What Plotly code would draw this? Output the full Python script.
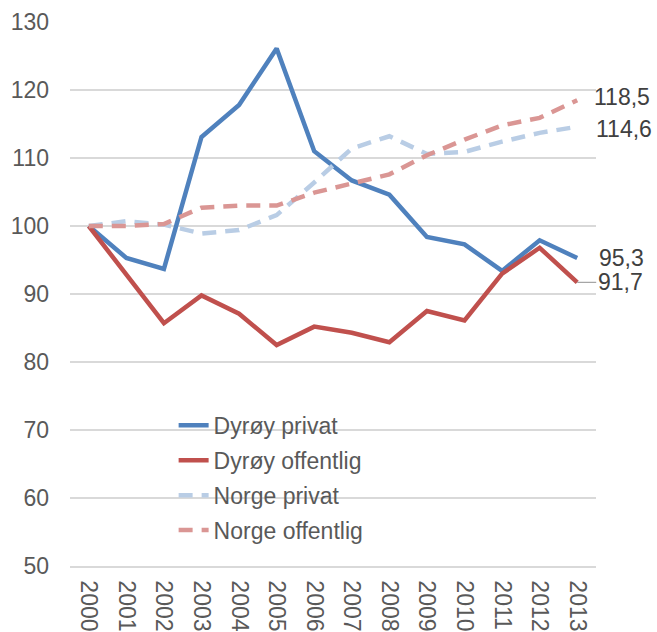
import plotly.graph_objects as go

years = [str(y) for y in range(2000, 2014)]
dyroy_privat = [100, 95.3, 93.7, 113.1, 117.8, 126.1, 111.0, 106.7, 104.6, 98.4, 97.3, 93.4, 97.9, 95.3]
dyroy_offentlig = [100, 92.8, 85.7, 89.8, 87.1, 82.5, 85.2, 84.3, 82.9, 87.5, 86.1, 93.0, 96.8, 91.7]
norge_privat = [100, 100.7, 100.2, 98.9, 99.4, 101.6, 106.4, 111.4, 113.2, 110.6, 110.9, 112.4, 113.7, 114.6]
norge_offentlig = [100, 100.0, 100.3, 102.7, 103.0, 103.0, 104.9, 106.3, 107.6, 110.4, 112.7, 114.8, 115.9, 118.5]
series_names = ["Dyrøy privat", "Dyrøy offentlig", "Norge privat", "Norge offentlig"]
end_labels = ["95,3", "91,7", "114,6", "118,5"]

FONT = "Liberation Sans, Arial, sans-serif"
styles = [
    dict(color="#4F81BD", width=4.5, dash="solid"),
    dict(color="#C0504D", width=4.5, dash="solid"),
    dict(color="#B9CDE5", width=4.5, dash="14px,9px"),
    dict(color="#DA9694", width=4.5, dash="14px,9px"),
]
data = [dyroy_privat, dyroy_offentlig, norge_privat, norge_offentlig]

fig = go.Figure()
for i, (name, vals, st) in enumerate(zip(series_names, data, styles)):
    fig.add_trace(go.Scatter(
        x=years, y=vals, mode="lines", name=name,
        line=st, legendgroup=name, legendrank=i + 1,
        hoverinfo="skip",
    ))

# end-value labels (x given as category index of the last year)
last_idx = len(years) - 1
label_shifts = {
    "95,3": (20, 0),
    "91,7": (0, 0),
    "114,6": (17, -2),
    "118,5": (15, 3),
}
for vals, lab in zip(data, end_labels):
    xs, ys = label_shifts[lab]
    if lab == "91,7":
        fig.add_annotation(
            x=last_idx, y=vals[-1], text=lab, showarrow=True,
            ax=19, ay=0, xanchor="left", arrowhead=0, arrowwidth=1.3,
            arrowcolor="#A6A6A6", standoff=0,
            font=dict(family=FONT, size=23, color="#404040"),
        )
    else:
        fig.add_annotation(
            x=last_idx, y=vals[-1], text=lab, showarrow=False,
            xanchor="left", yanchor="middle", xshift=xs, yshift=ys,
            font=dict(family=FONT, size=23, color="#404040"),
        )

fig.update_layout(
    width=657, height=632,
    margin=dict(l=70, r=61, t=22, b=66),
    paper_bgcolor="white", plot_bgcolor="white",
    font=dict(family=FONT, size=23, color="#595959"),
    showlegend=True,
    legend=dict(
        x=0.197, y=0.298, xanchor="left", yanchor="top",
        bgcolor="rgba(0,0,0,0)", tracegroupgap=2,
        font=dict(family=FONT, size=23, color="#595959"),
    ),
    xaxis=dict(
        type="category", range=[-0.5, 13.5], tickangle=90,
        showgrid=False, showline=True, linecolor="#D9D9D9", linewidth=1.5,
        ticks="", ticklabelstandoff=8, automargin=False,
        tickfont=dict(family=FONT, size=23, color="#595959"),
    ),
    yaxis=dict(
        range=[50, 130], dtick=10, showgrid=True, gridcolor="#D9D9D9",
        gridwidth=1.5, zeroline=False, showline=False, ticks="",
        ticklabelstandoff=20, automargin=False,
        tickfont=dict(family=FONT, size=23, color="#595959"),
    ),
)

fig.write_html("out.html", config={"displayModeBar": False},
               post_script="document.body.style.margin='0';")
